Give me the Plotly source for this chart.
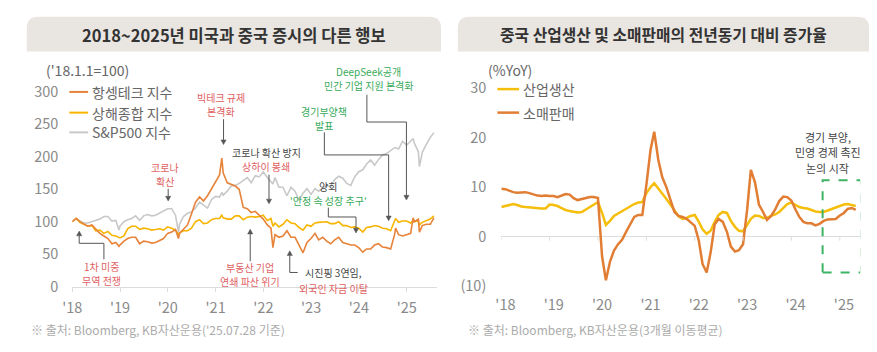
import pandas as pd
import plotly.graph_objects as go

W, H = 877, 352
FONT = "Noto Sans CJK KR, Noto Sans, sans-serif"

def px(x):
    return x / W

def py(y):
    return 1 - y / H

# ---------------- Left chart data ('18.1.1 = 100) ----------------
month_ends = list(pd.date_range('2018-01-31', '2025-06-30', freq='ME'))
left_dates = [pd.Timestamp('2018-01-01')] + month_ends + [pd.Timestamp('2025-07-28')]

hstech = [100,
          105, 100, 96, 93, 95, 88, 82, 78, 74, 66, 68, 64,
          70, 74, 76, 76, 66, 70, 69, 67, 68, 71, 74, 82,
          84, 88, 82, 88, 95, 112, 130, 138, 132, 140, 150, 160,
          172, 175, 160, 158, 155, 150, 122, 120, 114, 116, 110, 104,
          95, 90, 80, 76, 78, 86, 76, 76, 64, 52, 68, 74,
          82, 72, 76, 70, 66, 72, 76, 68, 66, 64, 64, 60,
          53, 58, 58, 64, 66, 61, 60, 58, 80, 80, 78, 80,
          82, 100, 104, 94, 96, 96,
          106]
sse = [100,
       105, 99, 96, 93, 94, 86, 87, 82, 85, 79, 78, 75,
       78, 89, 93, 93, 88, 90, 89, 87, 88, 89, 87, 92,
       90, 87, 83, 86, 86, 90, 100, 103, 97, 98, 103, 105,
       105, 106, 104, 104, 109, 109, 103, 107, 108, 107, 108, 110,
       102, 105, 98, 92, 96, 103, 98, 97, 91, 87, 95, 93,
       98, 99, 99, 100, 97, 97, 100, 94, 94, 91, 92, 90,
       84, 91, 92, 94, 93, 90, 89, 86, 101, 99, 101, 101,
       98, 100, 101, 99, 101, 104,
       109]
spx = [100,
       105, 101, 98, 98, 100, 101, 104, 108, 108, 101, 102, 93,
       100, 103, 105, 109, 102, 109, 111, 109, 110, 113, 117, 120,
       120, 110, 96, 108, 113, 115, 121, 130, 125, 121, 134, 139,
       138, 141, 147, 155, 156, 159, 163, 168, 160, 171, 169, 177,
       168, 162, 168, 153, 153, 140, 153, 147, 133, 144, 151, 142,
       151, 147, 152, 155, 155, 165, 170, 167, 159, 156, 169, 177,
       180, 189, 195, 187, 196, 203, 205, 210, 214, 212, 224, 218,
       224, 221, 208, 207, 219, 230,
       237]

# extra intra-month extremes
event_dates = ['2018-12-24', '2020-03-23', '2021-02-17', '2022-03-15',
               '2024-10-08', '2025-02-19', '2025-04-08']
hstech_ev = [62, 74, 198, 60, 90, 106, 84]
sse_ev = [76, 80, 110, 93, 105, 101, 95]
spx_ev = [87, 83, 145, 158, 214, 228, 185]

left_df = pd.concat([
    pd.DataFrame({'date': left_dates, 'hstech': hstech, 'sse': sse, 'spx': spx}),
    pd.DataFrame({'date': pd.to_datetime(event_dates), 'hstech': hstech_ev,
                  'sse': sse_ev, 'spx': spx_ev}),
]).sort_values('date')

left_years = [2018, 2019, 2020, 2021, 2022, 2023, 2024, 2025]
left_year_labels = ["'18", "'19", "'20", "'21", "'22", "'23", "'24", "'25"]
left_yticks = [0, 50, 100, 150, 200, 250, 300]

# ---------------- Right chart data (%YoY, 3M avg) ----------------
right_dates = pd.date_range('2018-01-01', periods=89, freq='MS')
ind_prod = [6.0, 6.2, 6.5, 6.6, 6.4, 6.1, 6.0, 5.9, 5.8, 5.8, 5.7, 5.7,
            6.5, 6.4, 6.2, 5.8, 5.4, 5.2, 5.0, 4.9, 5.0, 5.5, 6.0, 6.6,
            7.0, 4.8, 2.4, 3.2, 4.2, 4.7, 5.2, 5.7, 6.2, 6.6, 6.9, 7.0,
            8.8, 10.0, 10.8, 9.8, 8.8, 7.6, 6.5, 5.2, 4.1, 3.6, 3.8, 4.2,
            4.4, 3.0, 1.5, 0.6, 1.2, 3.0, 4.4, 5.0, 4.8, 3.2, 2.0, 1.2,
            1.1, 2.4, 3.6, 4.3, 4.2, 3.8, 3.8, 4.2, 4.5, 5.0, 5.8, 6.6,
            6.9, 6.4, 6.0, 5.8, 5.7, 5.4, 5.1, 5.0, 5.0, 5.3, 5.6, 6.0,
            6.2, 6.5, 6.6, 6.4, 6.2]
retail = [9.7, 9.6, 9.3, 9.0, 8.9, 9.0, 9.0, 8.8, 8.5, 8.3, 8.2, 8.3,
          8.2, 8.2, 8.0, 8.3, 8.6, 8.5, 7.8, 7.4, 7.6, 7.8, 8.0, 8.0,
          7.8, -4.0, -8.8, -5.0, -2.8, -1.5, -0.6, 1.0, 2.6, 4.0, 4.4, 4.4,
          10.5, 17.5, 21.2, 15.5, 12.0, 10.0, 7.5, 5.0, 4.2, 4.0, 3.6, 3.0,
          2.2, -0.8, -5.5, -7.2, -3.2, 2.5, 3.6, 3.0, 1.0, -2.0, -3.0, -2.7,
          -1.5, 5.5, 13.5, 11.0, 6.5, 5.0, 3.4, 4.2, 5.5, 7.2, 8.1, 8.0,
          7.3, 5.5, 4.0, 3.0, 2.7, 2.7, 2.3, 2.6, 3.2, 3.5, 3.6, 3.6,
          4.3, 4.8, 5.6, 5.8, 5.4]

right_years = [2018, 2019, 2020, 2021, 2022, 2023, 2024, 2025]
right_year_labels = ["'18", "'19", "'20", "'21", "'22", "'23", "'24", "'25"]
right_yticks = [-10, 0, 10, 20, 30]
right_ytick_labels = ["(10)", "0", "10", "20", "30"]

# ---------------- Colours ----------------
C_HSTECH = '#E8833A'
C_SSE = '#F7B500'
C_SPX = '#C8C8C8'
C_IP = '#F5BE0B'
C_RETAIL = '#E27D34'
RED = '#E0605F'
GREEN = '#38AA5A'
DARK = '#444444'
AXIS_TXT = '#8a8a8a'
ARROW = '#555555'

fig = go.Figure()

fig.add_trace(go.Scatter(x=left_df['date'], y=left_df['spx'], mode='lines', name='S&P500 지수',
                         line=dict(color=C_SPX, width=1.6), xaxis='x', yaxis='y', showlegend=False))
fig.add_trace(go.Scatter(x=left_df['date'], y=left_df['sse'], mode='lines', name='상해종합 지수',
                         line=dict(color=C_SSE, width=1.6), xaxis='x', yaxis='y', showlegend=False))
fig.add_trace(go.Scatter(x=left_df['date'], y=left_df['hstech'], mode='lines', name='항셍테크 지수',
                         line=dict(color=C_HSTECH, width=1.6), xaxis='x', yaxis='y', showlegend=False))

fig.add_trace(go.Scatter(x=right_dates, y=ind_prod, mode='lines', name='산업생산',
                         line=dict(color=C_IP, width=2.5), xaxis='x2', yaxis='y2', showlegend=False))
fig.add_trace(go.Scatter(x=right_dates, y=retail, mode='lines', name='소매판매',
                         line=dict(color=C_RETAIL, width=2.5), xaxis='x2', yaxis='y2', showlegend=False))

tickfont = dict(family=FONT, size=14.5, color=AXIS_TXT)

fig.update_layout(
    width=W, height=H, autosize=False,
    margin=dict(l=0, r=0, t=0, b=0),
    paper_bgcolor='white', plot_bgcolor='rgba(0,0,0,0)',
    font=dict(family=FONT),
    xaxis=dict(domain=[px(63), px(432)], range=['2018-01-01', '2025-08-21'], type='date',
               tickvals=[f'{y}-01-01' for y in left_years], ticktext=left_year_labels,
               showline=True, linecolor='#dcdcdc', linewidth=1, ticks='outside', ticklen=4,
               tickcolor='#dcdcdc', showgrid=False, zeroline=False, tickfont=tickfont,
               ticklabelstandoff=4, anchor='y'),
    yaxis=dict(domain=[py(292), py(85)], range=[0, 300], tickvals=left_yticks,
               showgrid=False, zeroline=False, showline=False, ticks='', tickfont=tickfont,
               ticklabelstandoff=13, anchor='x'),
    xaxis2=dict(domain=[px(497), px(860)], range=['2018-01-01', '2025-06-04'], type='date',
                tickvals=[f'{y}-02-01' for y in right_years], ticktext=right_year_labels,
                showline=False, ticks='', showgrid=False, zeroline=False, tickfont=tickfont,
                ticklabelstandoff=8, anchor='y2'),
    yaxis2=dict(domain=[py(291.7), py(80.9)], range=[-10, 30], tickvals=right_yticks,
                ticktext=right_ytick_labels, showgrid=False, zeroline=True,
                zerolinecolor='#dcdcdc', zerolinewidth=1, showline=False, ticks='',
                tickfont=tickfont, ticklabelstandoff=14, anchor='x2'),
)

shapes = []
annotations = []

# title boxes with rounded top corners
def title_box(x0, x1, y0, y1, r=12):
    path = (f"M {px(x0)} {py(y1)} L {px(x0)} {py(y0 + r)} "
            f"Q {px(x0)} {py(y0)} {px(x0 + r)} {py(y0)} "
            f"L {px(x1 - r)} {py(y0)} Q {px(x1)} {py(y0)} {px(x1)} {py(y0 + r)} "
            f"L {px(x1)} {py(y1)} Z")
    return dict(type='path', xref='paper', yref='paper', path=path,
                fillcolor='#E9E5E0', line=dict(width=0), layer='below')

shapes.append(title_box(17, 436, 5, 42))
shapes.append(title_box(453, 869, 5, 42))

def text(x, y, s, color=DARK, size=10, anchor='center', weight=None):
    annotations.append(dict(x=px(x), y=py(y), xref='paper', yref='paper', text=s,
                            showarrow=False, xanchor=anchor, yanchor='middle',
                            borderpad=0,
                            font=dict(family=FONT, size=size, color=color,
                                      weight=weight if weight else 'normal')))

def stack(x, yc, lines, size=10, gap=14.6):
    # one annotation per line, evenly spaced around the block centre yc
    n = len(lines)
    for i, (t, c) in enumerate(lines):
        text(x, yc + (i - (n - 1) / 2) * gap, t, color=c, size=size)

text(227, 24, '2018~2025년 미국과 중국 증시의 다른 행보', color='#333333', size=16.5, weight='bold')
text(661, 24, '중국 산업생산 및 소매판매의 전년동기 대비 증가율', color='#333333', size=15.8, weight='bold')

# unit labels
text(35, 62, "('18.1.1=100)", color='#666666', size=14, anchor='left')
text(482, 62, "(%YoY)", color='#666666', size=14, anchor='left')

# custom legends
def legend_item(x0, x1, y, color, label, width):
    shapes.append(dict(type='line', xref='paper', yref='paper', x0=px(x0), x1=px(x1),
                       y0=py(y), y1=py(y), line=dict(color=color, width=width)))
    text(x1 + 3, y, label, color='#666666', size=14, anchor='left')

legend_item(60, 79, 85, C_HSTECH, '항셍테크 지수', 2)
legend_item(60, 79, 107, C_SSE, '상해종합 지수', 2)
legend_item(60, 79, 128, C_SPX, 'S&P500 지수', 2)
legend_item(493, 515, 82, C_IP, '산업생산', 2.5)
legend_item(493, 515, 107, C_RETAIL, '소매판매', 2.5)

# connector paths and arrows (drawn as shapes)
def poly(points, color=ARROW):
    d = 'M ' + ' L '.join(f'{px(x)} {py(y)}' for x, y in points)
    shapes.append(dict(type='path', xref='paper', yref='paper', path=d,
                       line=dict(color=color, width=1)))

def arrow(x_from, y_from, x_to, y_to, color=ARROW):
    # vertical arrow; head is a small filled triangle at the tip
    s = 1 if y_to > y_from else -1
    head = 5
    poly([(x_from, y_from), (x_to, y_to - s * head)], color)
    d = (f'M {px(x_to - 2.6)} {py(y_to - s * head)} L {px(x_to + 2.6)} {py(y_to - s * head)} '
         f'L {px(x_to)} {py(y_to)} Z')
    shapes.append(dict(type='path', xref='paper', yref='paper', path=d,
                       fillcolor=color, line=dict(color=color, width=0.5)))

# 빅테크 규제
stack(213, 98, [('빅테크 규제', RED), ('본격화', RED)])
arrow(216, 114, 216, 141)
# 코로나 확산
stack(157, 173, [('코로나', RED), ('확산', RED)])
arrow(160, 188, 160, 201)
# 상하이 봉쇄
stack(259, 157, [('코로나 확산 방지', DARK), ('상하이 봉쇄', RED)])
arrow(262, 173, 262, 204)
# 양회
stack(322, 193, [('양회', DARK), ("'안정 속 성장 추구'", GREEN)])
poly([(322, 208), (322, 218), (350, 218)])
arrow(350, 218, 350, 235)
# 경기부양책
stack(318, 113, [('경기부양책', GREEN), ('발표', GREEN)])
poly([(318, 128), (318, 152), (383, 152)])
arrow(383, 152, 383, 222)
# DeepSeek
stack(363, 71, [('DeepSeek공개', GREEN), ('민간 기업 지원 본격화', GREEN)])
poly([(361, 88), (361, 117), (401, 117)])
arrow(401, 117, 401, 200)
# 1차 미중 무역 전쟁
stack(93, 278, [('1차 미중', RED), ('무역 전쟁', RED)])
poly([(95, 263), (95, 246), (70, 246)])
arrow(70, 246, 70, 233)
# 부동산
stack(243, 279, [('부동산 기업', RED), ('연쇄 파산 위기', RED)])
arrow(243, 265, 243, 231)
# 시진핑 3연임
stack(327, 285.5, [('시진핑 3연임,', DARK), ('외국인 자금 이탈', RED)], gap=16.5)
poly([(291, 277), (283, 277)])
arrow(283, 277, 283, 254)

# right chart: year tick marks on zero line
for y in right_years:
    shapes.append(dict(type='line', xref='x2', yref='y2', x0=f'{y}-01-01', x1=f'{y}-01-01',
                       y0=0, y1=-0.8, line=dict(color='#dcdcdc', width=1)))

# green dashed box
shapes.append(dict(type='rect', xref='x2', yref='y2', x0='2024-08-24', x1='2025-06-10',
                   y0=-7.2, y1=11.4, line=dict(color='#3DB363', width=2, dash='dash'),
                   fillcolor='rgba(0,0,0,0)'))
stack(827, 149, [('경기 부양,', DARK), ('민영 경제 촉진', DARK), ('논의 시작', DARK)], size=11, gap=16.4)

# footnotes
text(20, 338, "※ 출처: Bloomberg, KB자산운용('25.07.28 기준)", '#ababab', size=12, anchor='left')
text(462, 338, "※ 출처: Bloomberg, KB자산운용(3개월 이동평균)", '#ababab', size=12, anchor='left')

fig.update_layout(shapes=shapes, annotations=annotations)

fig.write_html('out.html')
